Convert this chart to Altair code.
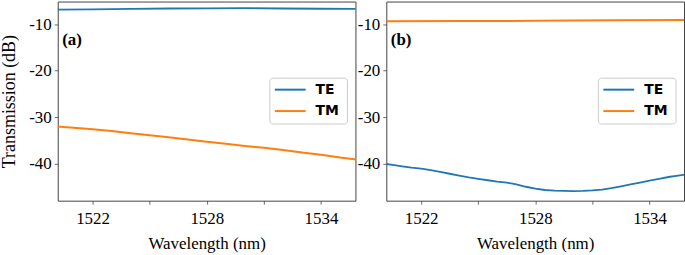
import altair as alt
import pandas as pd

# ---------------- data ----------------
SERIES = ["TE", "TM"]
COLORS = ["#1f77b4", "#ff7f0e"]

# panel (a)
WL_A_TE = [1520, 1522, 1524, 1526, 1528, 1530, 1532, 1534, 1536]
TE_A = [-6.85, -6.8, -6.7, -6.6, -6.55, -6.5, -6.6, -6.65, -6.7]

WL_A_TM = [1520, 1521, 1522, 1523, 1524, 1525, 1526, 1527, 1528,
           1529, 1530, 1531, 1532, 1533, 1534, 1535, 1536]
TM_A = [-31.95, -32.3, -32.6, -33.0, -33.45, -33.9, -34.35, -34.8, -35.3,
        -35.75, -36.2, -36.6, -37.1, -37.6, -38.1, -38.7, -39.2]

# panel (b)
WL_B_TE = [1520.0, 1520.5, 1521.0, 1521.5, 1522.0, 1522.5, 1523.0, 1523.5,
           1524.0, 1524.5, 1525.0, 1525.5, 1526.0, 1526.5, 1527.0, 1527.5,
           1528.0, 1528.5, 1529.0, 1529.5, 1530.0, 1530.5, 1531.0, 1531.5,
           1532.0, 1532.5, 1533.0, 1533.5, 1534.0, 1534.5, 1535.0, 1535.5,
           1536.0]
TE_B = [-40.0, -40.3, -40.6, -40.9, -41.1, -41.4, -41.8, -42.2,
        -42.6, -43.0, -43.3, -43.6, -43.9, -44.1, -44.5, -45.0,
        -45.4, -45.7, -45.85, -45.9, -45.95, -45.9, -45.8, -45.6,
        -45.3, -44.9, -44.5, -44.1, -43.7, -43.3, -42.9, -42.6,
        -42.3]

WL_B_TM = [1520, 1524, 1528, 1532, 1536]
TM_B = [-9.35, -9.3, -9.25, -9.15, -9.05]

X_TICKS = [1522, 1525, 1528, 1531, 1534]
Y_TICKS = [-10, -20, -30, -40]
X_DOMAIN = [1520.17, 1535.81]
Y_DOMAIN = [-48.0, -5.1]

W = 299
H = 200
SERIF = "Liberation Serif"
SANS = "DejaVu Sans"
FRAME = "#444444"


def panel_df(wl_te, te, wl_tm, tm):
    a = pd.DataFrame({"wl": wl_te, "db": te, "series": SERIES[0]})
    b = pd.DataFrame({"wl": wl_tm, "db": tm, "series": SERIES[1]})
    return pd.concat([a, b], ignore_index=True)


def lines(df, with_title, widths):
    yaxis = dict(values=Y_TICKS, labelExpr="'-' + abs(datum.value)")
    if with_title:
        yaxis.update(
            title="Transmission (dB)",
            titleX=-48,
            titleY=H / 2,
            titleAngle=270,
            titleAlign="center",
            titleBaseline="middle",
            titleFontSize=18,
        )
    else:
        yaxis.update(title=None)
    return alt.Chart(df).mark_line(clip=True).encode(
        x=alt.X(
            "wl:Q",
            scale=alt.Scale(domain=X_DOMAIN, nice=False, zero=False),
            axis=alt.Axis(
                values=X_TICKS,
                labelExpr="datum.value % 6 == 4 ? '' + datum.value : ''",
                title="Wavelength (nm)",
                labelPadding=6,
                titlePadding=10,
            ),
        ),
        y=alt.Y(
            "db:Q",
            scale=alt.Scale(domain=Y_DOMAIN, nice=False, zero=False),
            axis=alt.Axis(**yaxis),
        ),
        color=alt.Color(
            "series:N", scale=alt.Scale(domain=SERIES, range=COLORS), legend=None
        ),
        strokeWidth=alt.StrokeWidth(
            "series:N", scale=alt.Scale(domain=SERIES, range=widths), legend=None
        ),
        detail="series:N",
    )


def legend_layers():
    box = alt.Chart(pd.DataFrame({"k": [0]})).mark_rect(
        fill="white", fillOpacity=0.85, stroke="#cccccc", strokeWidth=1,
        cornerRadius=3,
    ).encode(x=alt.value(213), x2=alt.value(291), y=alt.value(77), y2=alt.value(123))
    layers = [box]
    for name, color, ypos in [(SERIES[0], COLORS[0], 88.5), (SERIES[1], COLORS[1], 110)]:
        d = pd.DataFrame({"label": [name]})
        layers.append(
            alt.Chart(d).mark_rule(color=color, strokeWidth=2).encode(
                x=alt.value(218), x2=alt.value(249), y=alt.value(ypos)
            )
        )
        layers.append(
            alt.Chart(d).mark_text(
                align="left", baseline="middle", font=SANS, fontWeight="bold",
                fontSize=14, color="black",
            ).encode(x=alt.value(259), y=alt.value(ypos), text="label:N")
        )
    return layers


def tag_layer(tag):
    return alt.Chart(pd.DataFrame({"tag": [tag]})).mark_text(
        align="left", baseline="alphabetic", font=SERIF, fontWeight="bold",
        fontSize=17, color="black",
    ).encode(x=alt.value(4.5), y=alt.value(44), text="tag:N")


panel_a = alt.layer(
    lines(panel_df(WL_A_TE, TE_A, WL_A_TM, TM_A), True, [1.8, 2.0]),
    *legend_layers(),
    tag_layer("(a)"),
).properties(width=W, height=H)

panel_b = alt.layer(
    lines(panel_df(WL_B_TE, TE_B, WL_B_TM, TM_B), False, [3.0, 2.0]),
    *legend_layers(),
    tag_layer("(b)"),
).properties(width=W, height=H)

chart = (
    alt.hconcat(panel_a, panel_b, spacing=0)
    .properties(
        padding={"left": 0, "top": 0, "right": 0, "bottom": 0},
        background="white",
    )
    .configure_view(stroke=FRAME, strokeWidth=1)
    .configure_axis(
        labelFont=SERIF,
        labelFontSize=17,
        labelColor="black",
        labelPadding=3,
        titleFont=SERIF,
        titleFontSize=17,
        titleFontWeight="normal",
        titleColor="black",
        titlePadding=8,
        tickSize=3.5,
        tickColor=FRAME,
        tickWidth=0.8,
        domain=False,
        grid=False,
    )
)

chart.save("out.html", embed_options={"renderer": "svg", "actions": False})
